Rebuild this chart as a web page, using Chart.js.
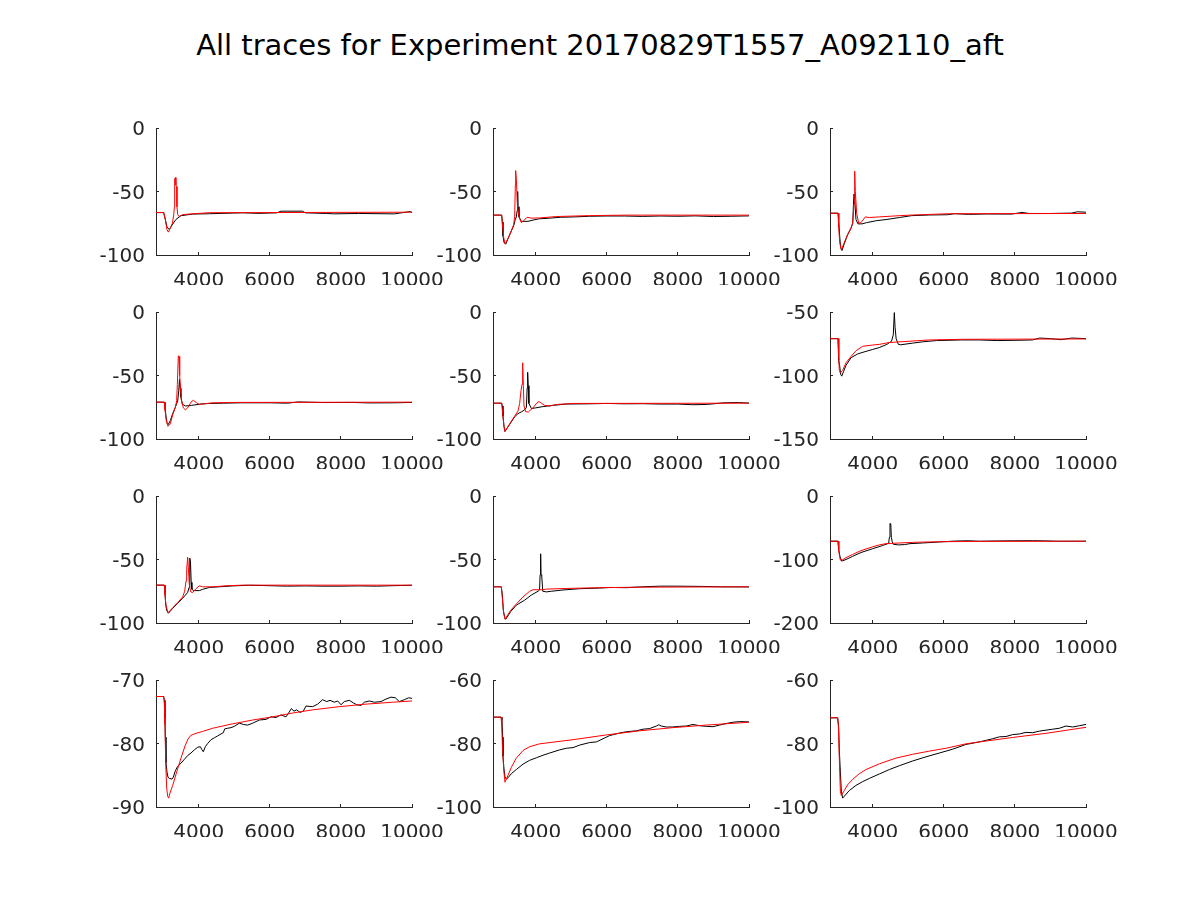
<!DOCTYPE html>
<html><head><meta charset="utf-8">
<script src="https://cdn.jsdelivr.net/npm/chart.js@4.4.0/dist/chart.umd.min.js"></script>
<style>
html,body{margin:0;padding:0;background:#fff;}
#wrap{position:relative;width:1200px;height:900px;overflow:hidden;background:#fff;}
#title{position:absolute;left:0;top:29px;width:1200px;text-align:center;font-family:'DejaVu Sans';font-size:29px;line-height:33px;color:#000;white-space:nowrap;}
canvas{position:absolute;}
</style></head><body>
<div id="wrap"><div id="title"></div></div>
<script>
const TITLE = "All traces for Experiment 20170829T1557_A092110_aft";
const xMin = 2800, xMax = 10000;
const xTicks = [4000, 6000, 8000, 10000];
const yMins = [-100, -100, -100, -100, -100, -150, -100, -100, -200, -90, -100, -100];
const yMaxs = [0, 0, 0, 0, 0, -50, 0, 0, 0, -70, -60, -60];
const yTicksA = [-100, -50, 0];
const yTicksB = [-150, -100, -50];
const yTicksC = [-200, -100, 0];
const yTicksD = [-90, -80, -70];
const yTicksE = [-100, -80, -60];

// subplot 1
const bx1 = [2800,3016,3062,3109,3175,3250,3362,3503,3644,3831,4300,4956,5237,5700,6200,6316,6925,7000,7600,7800,8500,9500,9700,9950,10000];
const by1 = [-66.6,-66.6,-72,-78,-80,-76.5,-72,-69,-68.5,-67.8,-67.5,-67,-66.8,-67.2,-66.8,-65.5,-65.5,-66.8,-67.3,-67.6,-67.3,-67.6,-66.8,-65.8,-66.5];
const rx1 = [2800,3016,3062,3109,3147,3200,3262,3300,3318,3325,3350,3360,3380,3390,3409,3450,3550,3800,4300,10000];
const ry1 = [-66.5,-66.5,-72,-80,-82,-79,-75,-68,-62,-40,-39,-45,-46,-62,-68,-69.8,-68.2,-67.6,-66.7,-66.3];
// subplot 2
const bx2 = [2800,3044,3062,3081,3109,3156,3240,3316,3381,3428,3456,3480,3494,3505,3531,3597,3781,3925,4100,4394,4700,5100,5519,6000,6500,7000,7500,8000,8500,9000,9500,10000];
const by2 = [-68.6,-68.6,-74,-85,-90,-91.5,-86,-81,-77,-72,-70,-65,-50,-62,-70,-73.5,-73.5,-72.5,-71.5,-71,-70.3,-70,-69.5,-69.3,-69.3,-69.6,-69.3,-69.5,-69.2,-69.7,-69.5,-69.2];
const rx2 = [2800,3044,3062,3100,3137,3222,3316,3381,3409,3428,3437,3456,3484,3531,3597,3662,3756,3878,4112,4581,5519,6550,10000];
const ry2 = [-68.6,-68.6,-75,-86,-91.3,-87,-81,-76,-70,-45,-33.5,-40,-60,-70,-74.5,-73,-70.3,-71,-70.8,-69.7,-69,-68.6,-68.6];
// subplot 3
const bx3 = [2800,3025,3044,3072,3100,3137,3203,3297,3391,3440,3460,3475,3494,3530,3587,3700,3831,4100,4400,4750,5100,5600,6100,6300,6700,7200,7900,8200,8400,9000,9600,9750,10000];
const by3 = [-67.1,-67.1,-72,-85,-94,-96.5,-91,-84,-79,-75,-60,-52,-56,-72,-75.5,-75.5,-74.5,-73,-72,-70.5,-69,-68.5,-68.3,-67.5,-68,-67.7,-67.8,-66.5,-67.3,-67.3,-67,-66,-66.3];
const rx3 = [2800,3025,3044,3072,3119,3203,3297,3391,3437,3475,3494,3512,3550,3606,3672,3794,3906,4187,4656,5125,6156,10000];
const ry3 = [-67.1,-67.1,-78,-90,-96,-90,-84,-78.5,-75,-60,-34,-50,-67,-75,-74.5,-70,-70.5,-70,-69.2,-68.5,-67.5,-67.3];
// subplot 4
const bx4 = [2800,3034,3053,3081,3109,3150,3203,3269,3344,3410,3440,3460,3480,3500,3540,3625,3800,4050,4300,4700,5200,6000,6500,6800,7100,7500,8300,8800,9500,10000];
const by4 = [-71,-71,-75,-82,-87,-88.5,-85.5,-80,-75,-70,-62,-53,-60,-67,-72.5,-74,-73.5,-72.5,-72,-71.8,-71.5,-71.5,-71.8,-70.8,-71,-71.3,-71.2,-71.6,-71.5,-71.2];
const rx4 = [2800,3034,3053,3091,3137,3203,3269,3344,3381,3400,3428,3447,3466,3512,3569,3625,3691,3784,3850,3944,4019,4159,4394,4956,10000];
const ry4 = [-71,-71,-77,-86,-90,-88,-81,-75,-70,-57,-34.5,-35,-50,-69,-75.5,-77,-75.5,-71,-69.5,-71.5,-72.8,-72.3,-71.5,-71.2,-71];
// subplot 5
const bx5 = [2800,3044,3062,3081,3109,3137,3269,3409,3503,3610,3691,3740,3760,3775,3790,3810,3880,4000,4200,4500,4850,5500,6000,6500,7000,7500,8000,8400,8800,9300,9700,10000];
const by5 = [-71.8,-71.8,-74,-82,-90,-94,-88.5,-82.5,-80,-78.5,-77,-75,-60,-47.5,-58,-72,-76,-75.5,-74.5,-73.5,-72.5,-72.3,-72,-72.3,-72.2,-72.5,-72.5,-73,-72.8,-71.5,-71.3,-71.7];
const rx5 = [2800,3044,3072,3109,3137,3269,3409,3503,3550,3587,3616,3634,3653,3672,3719,3794,3925,4037,4094,4169,4253,4394,4581,5050,10000];
const ry5 = [-71.8,-71.8,-80,-90,-94.2,-88,-82,-78,-72,-62,-57,-40,-58,-74,-78.5,-78.7,-75.5,-71.5,-70.5,-72,-73.5,-74,-72.8,-72,-71.8];
// subplot 6
const bx6 = [2800,3025,3044,3070,3100,3130,3180,3250,3391,3578,3812,4000,4187,4400,4530,4580,4609,4630,4660,4722,4790,5125,5400,5800,6500,7000,7500,8000,8500,8700,9000,9300,9600,10000];
const by6 = [-71,-71,-88,-92,-99,-100.5,-97,-92,-86,-83,-81,-79.5,-78,-75.5,-73,-68,-50.5,-62,-71,-75.5,-75.8,-74.5,-73.5,-72.5,-72,-72,-72.5,-72.3,-72,-70.5,-71,-71.8,-70.5,-71];
const rx6 = [2800,3025,3044,3062,3091,3156,3250,3391,3531,3719,4000,4187,4469,4937,5594,6531,10000];
const ry6 = [-71,-71,-85,-96,-98,-96,-90,-85,-80.5,-77,-76,-75.5,-74,-73.2,-72,-71.5,-71.2];
// subplot 7
const bx7 = [2800,3034,3053,3072,3100,3150,3269,3409,3550,3690,3730,3745,3756,3770,3790,3810,3859,4019,4112,4300,4581,4956,5400,5800,6500,7000,7500,8000,8500,9000,9500,10000];
const by7 = [-70.2,-70.2,-76,-85,-90,-92.3,-88.5,-84.5,-80.5,-76,-72,-60,-49,-52,-68,-73.5,-74.5,-74.5,-73.5,-72,-71.5,-70.8,-70.3,-70.5,-71,-70.8,-71,-71,-70.8,-71,-70.6,-70.3];
const rx7 = [2800,3034,3053,3081,3137,3269,3409,3550,3606,3644,3662,3691,3709,3737,3775,3831,3925,4019,4112,4394,4769,5237,10000];
const ry7 = [-70.2,-70.2,-78,-86,-92,-88,-84,-79.5,-75,-67,-58,-48.2,-56,-70,-75.5,-76,-73,-70.7,-71.5,-71.5,-70.7,-70.2,-70.2];
// subplot 8
const bx8 = [2800,3034,3062,3090,3137,3160,3297,3456,3691,3878,4066,4110,4125,4140,4150,4170,4200,4300,4440,4769,5237,5800,6100,6550,7000,7500,8000,8700,9200,10000];
const by8 = [-71.5,-71.5,-78,-90,-96.5,-97,-91,-86,-82,-78,-75,-74,-62,-45.5,-62,-62.5,-75,-75.5,-75,-74,-73,-72.5,-72,-72.2,-71.5,-71,-71,-71.2,-71.5,-71.6];
const rx8 = [2800,3034,3062,3100,3137,3297,3456,3644,3831,3925,4206,4300,4862,5800,6925,10000];
const ry8 = [-71.5,-71.5,-80,-92,-97,-90,-85,-79.5,-75,-73.8,-73.8,-73.3,-72.8,-72.2,-71.8,-71.5];
// subplot 9
const bx9 = [2800,3025,3044,3080,3128,3250,3437,3672,4000,4281,4450,4470,4487,4510,4525,4550,4581,4722,4900,5050,5400,5850,6300,6700,7000,7500,8000,8500,8800,9200,10000];
const by9 = [-71.2,-71.2,-84,-95,-102.5,-100,-95,-89,-83,-78,-74.5,-65,-43,-44,-65,-72,-76,-77,-76.5,-75,-74,-72.5,-71,-70.5,-71.2,-70.8,-70.5,-70.4,-70.6,-71.2,-71.2];
const rx9 = [2800,3025,3044,3072,3091,3156,3250,3437,3672,4000,4187,4375,4750,5125,5875,7000,10000];
const ry9 = [-71.2,-71.2,-85,-96,-101,-100.5,-97,-92,-86,-80,-77,-75,-74,-73,-72,-71.5,-71.2];
// subplot 10
const bx10 = [2800,3016,3034,3053,3062,3081,3109,3137,3175,3250,3287,3344,3409,3503,3597,3691,3784,3878,3972,4047,4094,4131,4187,4253,4347,4441,4534,4628,4694,4731,4816,4909,5003,5144,5256,5378,5519,5706,5894,6034,6175,6316,6456,6531,6606,6681,6756,6850,6944,7019,7206,7347,7487,7600,7694,7816,7909,8003,8097,8238,8350,8444,8566,8659,8800,8941,9128,9269,9409,9531,9644,9784,9906,10000];
const by10 = [-72.6,-72.6,-73.2,-76,-79,-83,-84.5,-85.3,-85.5,-85.6,-85.3,-84.3,-83.6,-83.1,-82.5,-81.9,-81.5,-81,-80.6,-80.5,-81,-81.3,-80.5,-80,-79.4,-79.1,-78.8,-78.5,-78.3,-77.7,-77.6,-77.5,-77.3,-76.8,-77,-77.1,-76.8,-76.3,-76.2,-75.8,-75.9,-75.5,-75.8,-75.2,-74.5,-74.9,-74.7,-75.1,-74.9,-74.1,-74.2,-73.8,-73.1,-73.4,-73.2,-73.5,-73.3,-73.9,-73.4,-73.2,-73.6,-73.9,-74,-73.5,-73.3,-73.5,-73.4,-73,-72.7,-72.8,-73.4,-73.1,-72.8,-72.9];
const rx10 = [2800,3016,3034,3053,3072,3100,3128,3156,3194,3269,3381,3503,3616,3700,3784,3925,4112,4394,4956,5519,6081,6644,7206,7956,8706,9456,10000];
const ry10 = [-72.6,-72.6,-73.5,-77,-82.8,-87,-88.3,-88.6,-87.8,-86.6,-84.5,-82.3,-80.4,-79.3,-78.7,-78.4,-78.1,-77.6,-76.9,-76.3,-75.8,-75.2,-74.7,-74.2,-73.8,-73.5,-73.3];
// subplot 11
const bx11 = [2800,3025,3053,3072,3081,3109,3137,3175,3222,3316,3456,3644,3831,4019,4206,4394,4675,4862,5050,5237,5519,5706,5894,6081,6362,6550,6831,7019,7206,7394,7459,7534,7675,7862,8050,8237,8425,8612,8800,8987,9175,9362,9550,9737,10000];
const by11 = [-71.7,-71.7,-72.5,-78,-84,-88,-90.5,-91.2,-90.8,-89.5,-88.2,-86.5,-85.3,-84.5,-83.7,-83,-82,-81.5,-81.3,-80.5,-79.7,-79.5,-78.5,-77.5,-76.7,-76.3,-76,-75.5,-75.3,-74.5,-74.1,-74.5,-74.8,-74.8,-74.6,-74.5,-74,-74.4,-74.6,-74.7,-74.2,-73.7,-73.3,-73.1,-73.2];
const rx11 = [2800,3025,3044,3062,3100,3137,3222,3316,3456,3644,3831,4112,5050,5987,6925,7862,8800,10000];
const ry11 = [-71.7,-71.7,-74,-80,-88,-92.2,-90,-87.5,-84.6,-82.2,-81,-80.1,-78.8,-77.3,-76,-75,-74.2,-73.3];
// subplot 12
const bx12 = [2800,3016,3044,3062,3091,3119,3156,3203,3344,3531,3719,3906,4187,4469,4750,5125,5500,5875,6250,6625,7000,7375,7562,7750,7937,8125,8312,8500,8687,8875,9062,9250,9437,9625,9812,10000];
const by12 = [-71.9,-71.9,-75,-82,-89,-95,-97.2,-96.6,-94.8,-93.2,-92,-91,-89.6,-88.2,-87,-85.5,-84.2,-83,-81.8,-80.3,-79.5,-78.5,-77.9,-77.8,-77.2,-77,-76.5,-76.6,-76.1,-75.8,-75.5,-75.2,-74.5,-74.8,-74.4,-74];
const rx12 = [2800,3016,3034,3062,3091,3119,3203,3297,3437,3625,3812,4187,4656,5125,5594,6062,6625,7000,7937,8875,10000];
const ry12 = [-71.9,-71.9,-74,-85,-95,-96.4,-94.8,-93,-91.3,-89.5,-88.2,-86.4,-84.6,-83.4,-82.4,-81.5,-80.1,-79.5,-78.1,-76.8,-74.9];

const blackX = [bx1,bx2,bx3,bx4,bx5,bx6,bx7,bx8,bx9,bx10,bx11,bx12];
const blackY = [by1,by2,by3,by4,by5,by6,by7,by8,by9,by10,by11,by12];
const redX = [rx1,rx2,rx3,rx4,rx5,rx6,rx7,rx8,rx9,rx10,rx11,rx12];
const redY = [ry1,ry2,ry3,ry4,ry5,ry6,ry7,ry8,ry9,ry10,ry11,ry12];
const yTickSets = [yTicksA,yTicksA,yTicksA,yTicksA,yTicksA,yTicksB,yTicksA,yTicksA,yTicksC,yTicksD,yTicksE,yTicksE];

// layout (pixels)
const axLefts = [156, 493, 830];
const axTops = [128, 312, 496, 680];
const AXW = 256, AXH = 127;
const PADL = 100, PADT = 16, PADR = 60, PADB = 50, YW = 60, XH = 30;
const FONT = "'DejaVu Sans', 'Liberation Sans', sans-serif";
const AXC = '#262626';

document.getElementById('title').textContent = TITLE;
const wrap = document.getElementById('wrap');

function pts(xs, ys) {
  const n = Math.min(xs.length, ys.length);
  const out = [];
  for (let i = 0; i < n; i++) out.push({x: xs[i], y: ys[i]});
  return out;
}
function zeroPad(s) { s.paddingLeft = 0; s.paddingRight = 0; s.paddingTop = 0; s.paddingBottom = 0; }

for (let i = 0; i < 12; i++) {
  const col = i % 3, row = Math.floor(i / 3);
  const cw = PADL + AXW + PADR, ch = PADT + AXH + PADB;
  const cv = document.createElement('canvas');
  cv.width = cw; cv.height = ch;
  cv.style.width = cw + 'px'; cv.style.height = ch + 'px';
  cv.style.left = (axLefts[col] - PADL) + 'px';
  cv.style.top = (axTops[row] - PADT) + 'px';
  wrap.appendChild(cv);
  const yt = yTickSets[i];
  new Chart(cv, {
    type: 'scatter',
    data: { datasets: [
      { data: pts(redX[i], redY[i]), borderColor: '#ff0000', backgroundColor: '#ff0000', borderWidth: 1, pointRadius: 0, showLine: true, tension: 0 },
      { data: pts(blackX[i], blackY[i]), borderColor: '#000000', backgroundColor: '#000000', borderWidth: 1, pointRadius: 0, showLine: true, tension: 0 }
    ]},
    options: {
      responsive: false, animation: false, devicePixelRatio: 1, events: [],
      layout: { padding: { left: PADL - YW, top: PADT, right: PADR, bottom: PADB - XH } },
      plugins: { legend: { display: false }, tooltip: { enabled: false }, title: { display: false } },
      scales: {
        x: {
          type: 'linear', position: 'bottom', min: xMin, max: xMax,
          afterBuildTicks: s => { s.ticks = xTicks.map(v => ({ value: v })); },
          afterFit: s => { s.height = XH; zeroPad(s); },
          grid: { drawOnChartArea: false, drawTicks: true, tickLength: -3, color: AXC, lineWidth: 1 },
          border: { display: true, color: AXC, width: 1 },
          ticks: { color: AXC, font: { family: FONT, size: 20 }, padding: 17, maxRotation: 0, minRotation: 0, autoSkip: false, callback: v => String(v) }
        },
        y: {
          type: 'linear', position: 'left', min: yMins[i], max: yMaxs[i],
          afterBuildTicks: s => { s.ticks = yt.map(v => ({ value: v })); },
          afterFit: s => { s.width = YW; zeroPad(s); },
          grid: { drawOnChartArea: false, drawTicks: true, tickLength: -3, color: AXC, lineWidth: 1 },
          border: { display: true, color: AXC, width: 1 },
          ticks: { color: AXC, font: { family: FONT, size: 20 }, padding: 14, labelOffset: 2, autoSkip: false, callback: v => String(v) }
        }
      }
    }
  });
}
</script>
</body></html>
